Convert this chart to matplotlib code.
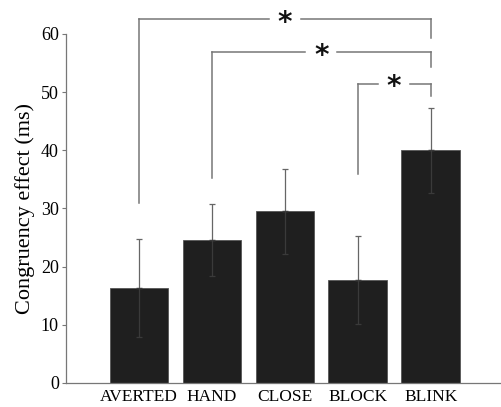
import matplotlib.pyplot as plt
import numpy as np

conditions = ['AVERTED', 'HAND', 'CLOSE', 'BLOCK', 'BLINK']
effect_ms = [16.3, 24.6, 29.5, 17.7, 40.0]
error_ms = [8.4, 6.2, 7.3, 7.6, 7.3]

# significance brackets: (from, to, height, left end, right end)
brackets = [(0, 4, 62.5, 31.0, 59.3), (1, 4, 56.9, 35.2, 54.3), (3, 4, 51.4, 35.9, 49.3)]

plt.rcParams['font.family'] = ['Liberation Serif', 'DejaVu Serif']

fig = plt.figure(figsize=(5.02, 4.07), dpi=100)
ax = fig.add_axes([0.131, 0.059, 0.865, 0.8575])

x = np.arange(len(conditions))
zeros = np.zeros(len(conditions))
ax.bar(x, effect_ms, width=0.8, color='#1f1f1f', edgecolor='#555555', linewidth=0.6, zorder=2)
# upper half of the error bar in grey, lower half barely visible inside the bar
ax.errorbar(x, effect_ms, yerr=[zeros, error_ms], fmt='none', ecolor='#666666',
            elinewidth=0.9, capsize=2.5, capthick=0.9, zorder=3)
ax.errorbar(x, effect_ms, yerr=[error_ms, zeros], fmt='none', ecolor='#3a3a3a',
            elinewidth=0.9, capsize=2.5, capthick=0.9, zorder=3)

line_kw = dict(color='#777777', lw=1.1, clip_on=False, zorder=1)
for i, j, h, left_end, right_end in brackets:
    ax.plot([x[i], x[i]], [left_end, h], **line_kw)
    ax.plot([x[j], x[j]], [right_end, h], **line_kw)
    mid = (x[i] + x[j]) / 2
    gap = 0.22
    ax.plot([x[i], mid - gap], [h, h], **line_kw)
    ax.plot([mid + gap, x[j]], [h, h], **line_kw)
    ax.text(mid, h - 0.6, '*', ha='center', va='center', fontsize=20,
            family='DejaVu Sans', fontweight='bold', color='#111111')

ax.set_xlim(-1, 4.95)
ax.set_ylim(0, 60)
ax.set_yticks([0, 10, 20, 30, 40, 50, 60])
ax.set_xticks(x)
ax.set_xticklabels(conditions, fontsize=12.5)
ax.tick_params(axis='y', labelsize=13, length=3, width=0.8, color='#777777', pad=2)
ax.tick_params(axis='x', length=0, pad=4)
ax.set_ylabel('Congruency effect (ms)', fontsize=16, labelpad=4)

for side in ['top', 'right']:
    ax.spines[side].set_visible(False)
for side in ['left', 'bottom']:
    ax.spines[side].set_color('#777777')
    ax.spines[side].set_linewidth(0.9)

fig.savefig('out.png', dpi=100)
